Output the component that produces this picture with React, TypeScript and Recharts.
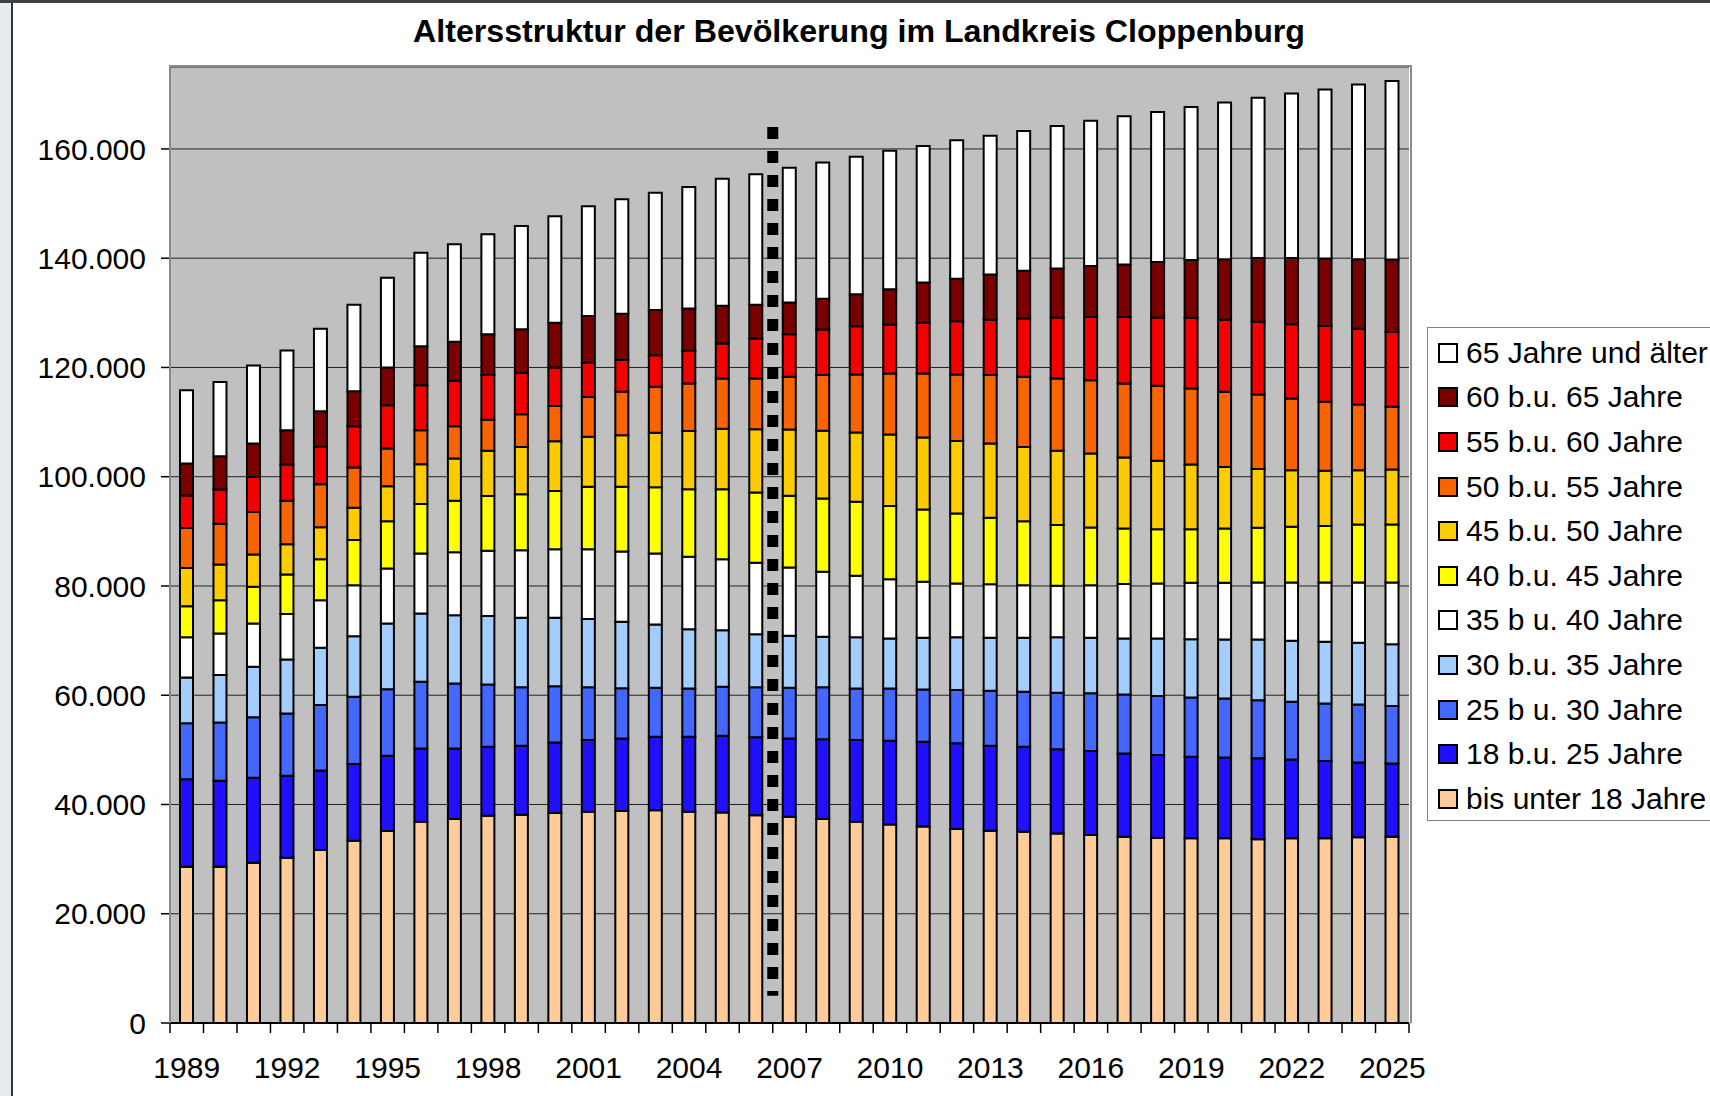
import { BarChart, Bar, XAxis, YAxis, CartesianGrid, ReferenceLine } from 'recharts'

const YEARS = [
  '1989', '1990', '1991', '1992', '1993', '1994', '1995', '1996', '1997', '1998',
  '1999', '2000', '2001', '2002', '2003', '2004', '2005', '2006', '2007', '2008',
  '2009', '2010', '2011', '2012', '2013', '2014', '2015', '2016', '2017', '2018',
  '2019', '2020', '2021', '2022', '2023', '2024', '2025',
]

// Einwohner je Altersgruppe (geschätzt aus der Grafik)
const UNDER_18 = [28600, 28600, 29350, 30250, 31650, 33350, 35150, 36850, 37350, 37950, 38100, 38450, 38650, 38800, 38950, 38650, 38550, 38050, 37750, 37350, 36850, 36350, 35950, 35500, 35200, 35000, 34700, 34400, 34100, 33900, 33800, 33800, 33650, 33800, 33800, 34000, 34100]
const AGE_18_25 = [16000, 15750, 15550, 15000, 14550, 14050, 13750, 13400, 12900, 12600, 12650, 12900, 13150, 13300, 13450, 13750, 14050, 14250, 14350, 14600, 14950, 15300, 15550, 15700, 15550, 15550, 15400, 15400, 15250, 15150, 14950, 14800, 14800, 14450, 14150, 13700, 13400]
const AGE_25_30 = [10250, 10650, 11050, 11400, 12000, 12300, 12200, 12200, 11900, 11400, 10700, 10300, 9650, 9200, 8950, 8850, 8950, 9150, 9250, 9500, 9450, 9600, 9550, 9750, 10050, 10100, 10350, 10550, 10800, 10800, 10850, 10800, 10650, 10550, 10550, 10600, 10550]
const AGE_30_35 = [8400, 8700, 9250, 9900, 10500, 11100, 12050, 12500, 12500, 12550, 12750, 12550, 12500, 12150, 11600, 10850, 10350, 9700, 9550, 9250, 9350, 9150, 9450, 9650, 9700, 9850, 10150, 10150, 10250, 10550, 10650, 10800, 11100, 11150, 11300, 11300, 11300]
const AGE_35_40 = [7350, 7600, 7950, 8300, 8700, 9350, 10050, 11000, 11500, 11950, 12350, 12500, 12750, 12850, 13000, 13250, 13000, 13100, 12500, 11900, 11250, 10850, 10250, 9850, 9800, 9650, 9450, 9650, 9950, 10050, 10350, 10400, 10450, 10700, 10850, 11050, 11300]
const AGE_40_45 = [5700, 6100, 6700, 7250, 7500, 8250, 8650, 9050, 9450, 10000, 10250, 10700, 11450, 11850, 12100, 12350, 12800, 12850, 13100, 13400, 13550, 13400, 13250, 12800, 12200, 11700, 11100, 10550, 10150, 9950, 9800, 9900, 10000, 10200, 10350, 10600, 10600]
const AGE_45_50 = [7000, 6550, 5900, 5550, 5850, 5900, 6400, 7300, 7750, 8300, 8650, 9100, 9150, 9450, 10000, 10650, 11100, 11600, 12150, 12400, 12700, 13100, 13200, 13300, 13600, 13600, 13600, 13550, 13000, 12500, 11850, 11300, 10750, 10350, 10100, 9950, 10050]
const AGE_50_55 = [7300, 7450, 7800, 7950, 7850, 7400, 6900, 6200, 5900, 5700, 6000, 6450, 7300, 7950, 8400, 8700, 9200, 9300, 9650, 10200, 10600, 11150, 11700, 12150, 12500, 12850, 13250, 13400, 13550, 13750, 13900, 13750, 13650, 13100, 12600, 12000, 11500]
const AGE_55_60 = [5950, 6250, 6450, 6650, 6850, 7550, 7950, 8250, 8300, 8150, 7600, 7050, 6250, 5800, 5800, 5950, 6400, 7300, 7800, 8350, 8850, 8950, 9300, 9750, 10150, 10650, 11150, 11600, 12200, 12500, 12950, 13200, 13300, 13600, 13900, 13900, 13700]
const AGE_60_65 = [5850, 6100, 6100, 6250, 6550, 6400, 6900, 7150, 7150, 7500, 7950, 8200, 8550, 8500, 8250, 7800, 6900, 6200, 5800, 5650, 5850, 6450, 7350, 7800, 8250, 8750, 8950, 9300, 9600, 10150, 10550, 11050, 11700, 12150, 12350, 12700, 13250]
const AGE_65_PLUS = [13450, 13600, 14250, 14600, 15100, 15850, 16400, 17100, 17850, 18300, 18900, 19500, 20100, 20950, 21500, 22250, 23250, 23850, 24650, 24900, 25150, 25350, 25000, 25350, 25400, 25600, 26100, 26600, 27150, 27450, 28050, 28700, 29300, 30100, 30950, 32000, 32700]

const Y_TICKS = [0, 20000, 40000, 60000, 80000, 100000, 120000, 140000, 160000]

const SERIES = [
  { key: 'u18', name: 'bis unter 18 Jahre', color: '#FFCC99', values: UNDER_18 },
  { key: 'a18', name: '18 b.u. 25 Jahre', color: '#2010FF', values: AGE_18_25 },
  { key: 'a25', name: '25 b u. 30 Jahre', color: '#4467FF', values: AGE_25_30 },
  { key: 'a30', name: '30 b.u. 35 Jahre', color: '#A3CCFF', values: AGE_30_35 },
  { key: 'a35', name: '35 b u. 40 Jahre', color: '#FFFFFF', values: AGE_35_40 },
  { key: 'a40', name: '40 b.u. 45 Jahre', color: '#FFFF00', values: AGE_40_45 },
  { key: 'a45', name: '45 b.u. 50 Jahre', color: '#FCCB00', values: AGE_45_50 },
  { key: 'a50', name: '50 b.u. 55 Jahre', color: '#F86400', values: AGE_50_55 },
  { key: 'a55', name: '55 b.u. 60 Jahre', color: '#F50000', values: AGE_55_60 },
  { key: 'a60', name: '60 b.u. 65 Jahre', color: '#7A0000', values: AGE_60_65 },
  { key: 'a65', name: '65 Jahre und älter', color: '#FFFFFF', values: AGE_65_PLUS },
]

const data = YEARS.map((year, i) => {
  const row: Record<string, string | number> = { year }
  SERIES.forEach(s => { row[s.key] = s.values[i] })
  return row
})

const FONT = '"Liberation Sans", Arial, sans-serif'
const W = 1710
const H = 1096
const MARGIN = { top: 67, right: 301, bottom: 13, left: 70 }
const Y_AXIS_W = 100
const PLOT_LEFT = MARGIN.left + Y_AXIS_W
const PLOT_W = W - PLOT_LEFT - MARGIN.right
const BAND = PLOT_W / YEARS.length

const fmt = (v: number) => String(v).replace(/\B(?=(\d{3})+(?!\d))/g, '.')

function YearTick(props: any) {
  const { x, y, payload, index } = props
  return (
    <g>
      <line x1={x - BAND / 2} x2={x - BAND / 2} y1={y} y2={y + 10} stroke="#000" strokeWidth={1.5} />
      {index === YEARS.length - 1 && (
        <line x1={x + BAND / 2} x2={x + BAND / 2} y1={y} y2={y + 10} stroke="#000" strokeWidth={1.5} />
      )}
      {index % 3 === 0 && (
        <text x={x} y={y + 44} dy="0.355em" textAnchor="middle" fontSize={30} fontFamily={FONT} fill="#000">
          {payload.value}
        </text>
      )}
    </g>
  )
}

export default function App() {
  const legendItems = [...SERIES].reverse()

  return (
    <div style={{ position: 'absolute', left: 0, top: 0, width: W, height: H, overflow: 'hidden', background: '#fff', fontFamily: FONT }}>
      <div style={{ position: 'absolute', left: 0, top: 0, width: 11, height: H, background: '#e6ecef', borderRight: '2px solid #333' }} />
      <div style={{ position: 'absolute', left: 0, top: 0, width: W, height: 3, background: '#404040' }} />

      <svg width={W} height={60} style={{ position: 'absolute', left: 0, top: 0 }}>
        <text x={413} y={42} textLength={892} lengthAdjust="spacingAndGlyphs" fontSize={31} fontWeight="bold" fontFamily={FONT} fill="#000">
          Altersstruktur der Bevölkerung im Landkreis Cloppenburg
        </text>
      </svg>

      <div style={{ position: 'absolute', left: 0, top: 0 }}>
        <BarChart width={W} height={H} data={data} margin={MARGIN} barSize={13}>
          <CartesianGrid vertical={false} fill="#c0c0c0" stroke="#222" strokeWidth={1} />
          <XAxis
            dataKey="year"
            interval={0}
            height={60}
            tickSize={0}
            tickMargin={0}
            tickLine={false}
            axisLine={{ stroke: '#000', strokeWidth: 2 }}
            tick={<YearTick />}
          />
          <YAxis
            width={Y_AXIS_W}
            domain={[0, 175000]}
            ticks={Y_TICKS}
            allowDataOverflow
            tickSize={9}
            tickMargin={15}
            tickFormatter={fmt}
            axisLine={{ stroke: '#000' }}
            tickLine={{ stroke: '#000', strokeWidth: 1.5 }}
            tick={{ fontSize: 30, fill: '#000', fontFamily: FONT }}
          />
          {SERIES.map(s => (
            <Bar
              key={s.key}
              dataKey={s.key}
              name={s.name}
              stackId="age"
              fill={s.color}
              stroke="#000"
              strokeWidth={2}
              isAnimationActive={false}
            />
          ))}
          <ReferenceLine
            segment={[{ x: '2007', y: 164000 }, { x: '2007', y: 5000 }]}
            position="start"
            stroke="#000"
            strokeWidth={11}
            strokeDasharray="12 12"
          />
        </BarChart>
      </div>

      <div style={{ position: 'absolute', left: PLOT_LEFT - 1, top: MARGIN.top - 2, width: PLOT_W, height: H - MARGIN.top - MARGIN.bottom - 60, border: '2px solid #8a8a8a', borderBottom: 'none', pointerEvents: 'none' }} />

      <div style={{ position: 'absolute', left: 1427, top: 327, width: 400, height: 492, border: '1.5px solid #808080', background: '#fff' }}>
        {legendItems.map((s, i) => (
          <div key={s.key} style={{ position: 'absolute', left: 10, top: 24.7 + i * 44.6 - 18, height: 36, display: 'flex', alignItems: 'center', whiteSpace: 'nowrap' }}>
            <span style={{ display: 'inline-block', width: 16, height: 16, background: s.color, border: '2px solid #000', marginRight: 8 }} />
            <span style={{ fontSize: 30, color: '#000' }}>{s.name}</span>
          </div>
        ))}
      </div>
    </div>
  )
}
